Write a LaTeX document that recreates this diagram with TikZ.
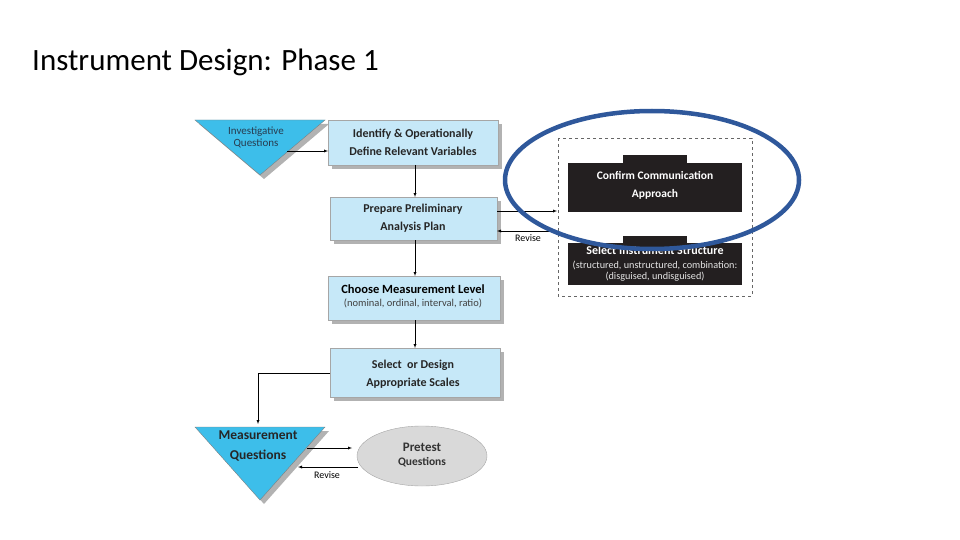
\documentclass[tikz,border=0pt]{standalone}
\usepackage{fontspec}
\setmainfont{Carlito}
\begin{document}
\begin{tikzpicture}[x=1pt,y=-1pt,
 lb/.style={draw=gray!70,fill={rgb,255:red,198;green,232;blue,248}},
 sh/.style={fill=gray!60},
 dk/.style={fill={rgb,255:red,35;green,31;blue,32}},
 bt/.style={font=\bfseries\fontsize{12}{18}\selectfont,align=center,text=black!85},
 ar/.style={-latex,thin}]
\useasboundingbox (0,0) rectangle (960,540);
\node[anchor=base west,inner sep=0pt,font=\fontsize{31}{33}\selectfont] (title) at (32,71) {Instrument Design: Phase 1};
% triangle 1
\fill[sh] (199,124)--(329,124)--(264,179)--cycle;
\draw[gray,fill={rgb,255:red,61;green,190;blue,234}] (195,120)--(325,120)--(260,175)--cycle;
\node[font=\fontsize{11}{12}\selectfont,align=center,text={rgb,255:red,40;green,60;blue,80}] (t1) at (256,137) {Investigative\\Questions};
\coordinate (t1r) at (287,151);
% boxes
\fill[sh] (332,124) rectangle (502,169);
\draw[lb] (328,120) rectangle (498,165);
\node[bt] (b1) at (413,142) {Identify \& Operationally\\Define Relevant Variables};
\fill[sh] (334,201) rectangle (501,244);
\draw[lb] (330,197) rectangle (497,240);
\node[bt] (b2) at (413,218) {Prepare Preliminary\\Analysis Plan};
\fill[sh] (332,280) rectangle (504,324);
\draw[lb] (328,276) rectangle (500,320);
\node[font=\bfseries\fontsize{12.5}{14}\selectfont] (b3) at (413,289) {Choose Measurement Level};
\node[font=\fontsize{10.5}{12}\selectfont,text=black!75] (b3s) at (413,303) {(nominal, ordinal, interval, ratio)};
\fill[sh] (334,352) rectangle (504,401);
\draw[lb] (330,348) rectangle (500,397);
\node[bt] (b4) at (413,374) {Select \ or Design\\Appropriate Scales};
\draw[ar] (t1r) -- (328,151);
\draw[ar] (415,165) -- (415,197);
\draw[ar] (415,240) -- (415,276);
\draw[ar] (415,320) -- (415,348);
% revise loop right
\draw[ar] (497,211) -- (557,211);
\draw[ar] (557,231) -- (497,231);
\node[font=\fontsize{10}{11}\selectfont] (rv1) at (528,238) {Revise};
% to measurement questions
\draw[ar] (330,373) -- (258,373) -- (258,424);
\fill[sh] (199,431)--(329,431)--(264,504)--cycle;
\draw[gray,fill={rgb,255:red,61;green,190;blue,234}] (195,427)--(325,427)--(260,500)--cycle;
\node[font=\bfseries\fontsize{13.5}{20}\selectfont,align=center,text=black!85] (t2) at (258,446) {Measurement\\Questions};
\draw[gray!70,fill=gray!30] (422,456) ellipse (65 and 30);
\node[font=\bfseries\fontsize{13}{16}\selectfont,align=center,text=black!80] (pt) at (422,455) {Pretest\\[-2pt]{\fontsize{11.5}{13}\selectfont Questions}};
\draw[ar] (307,448) -- (352,448);
\draw[ar] (358,467) -- (298,467);
\node[font=\fontsize{10}{11}\selectfont] (rv2) at (327,475) {Revise};
% dashed
\draw[dashed,gray!80!black] (558,138) rectangle (752,296);
\fill[dk] (623,155) rectangle (687,165);
\fill[dk] (568,163) rectangle (742,212);
\node[font=\bfseries\fontsize{11.5}{18}\selectfont,align=center,text=white] (c1) at (655,185) {Confirm Communication\\Approach};
\fill[dk] (623,236) rectangle (687,245);
\fill[dk] (568,243) rectangle (742,285);
\node[font=\bfseries\fontsize{12}{13}\selectfont,text=white] (c2) at (655,250) {Select Instrument Structure};
\node[font=\fontsize{10.2}{11}\selectfont,align=center,text=white!90!black] (c2s) at (655,271) {(structured, unstructured, combination:\\(disguised, undisguised)};
\draw[line width=4.5pt,color={rgb,255:red,47;green,88;blue,155}] (652,180) ellipse (147 and 69);
\end{tikzpicture}
\end{document}
